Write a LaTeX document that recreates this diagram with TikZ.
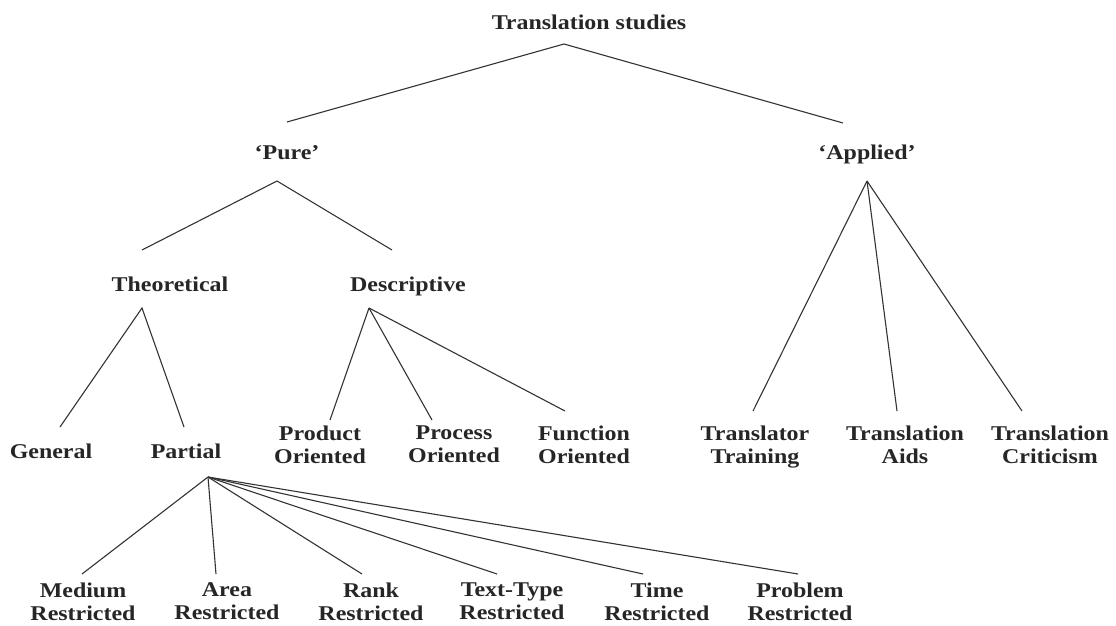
\documentclass[tikz,border=0pt]{standalone}
\usepackage{fontspec}
\setmainfont[FakeStretch=1.14]{Liberation Serif}
\begin{document}
\begin{tikzpicture}[x=1pt,y=-1pt,
  lbl/.style={font=\fontsize{21}{23}\selectfont\bfseries, text=black!85, align=center, inner sep=0pt,
    execute at begin node=\strut, execute at end node=\strut},
  branch/.style={draw=black!80, line width=1.1pt}]
\useasboundingbox[fill=white] (0,0) rectangle (1116,626);
% labels
\node[lbl] (ts) at (589,25) {Translation studies};
\node[lbl] (pure) at (287,155) {‘Pure’};
\node[lbl] (applied) at (867,155) {‘Applied’};
\node[lbl] (theo) at (170,287) {Theoretical};
\node[lbl] (desc) at (408,287) {Descriptive};
\node[lbl] (gen) at (51,454) {General};
\node[lbl] (part) at (186,454) {Partial};
\node[lbl] (prod) at (320,448) {Product\\Oriented};
\node[lbl] (proc) at (454,448) {Process\\Oriented};
\node[lbl] (func) at (584,448) {Function\\Oriented};
\node[lbl] (ttrain) at (755,448) {Translator\\Training};
\node[lbl] (taids) at (905,448) {Translation\\Aids};
\node[lbl] (tcrit) at (1050,448) {Translation\\Criticism};
\node[lbl] (med) at (83,605) {Medium\\Restricted};
\node[lbl] (area) at (227,605) {Area\\Restricted};
\node[lbl] (rank) at (371,605) {Rank\\Restricted};
\node[lbl] (ttype) at (512,605) {Text-Type\\Restricted};
\node[lbl] (time) at (657,605) {Time\\Restricted};
\node[lbl] (prob) at (800,605) {Problem\\Restricted};
% apexes and line ends
\coordinate (ts-a) at (564,44);
\coordinate (pure-t) at (287,122);
\coordinate (applied-t) at (843,123);
\coordinate (pure-a) at (277,181);
\coordinate (theo-t) at (142,250);
\coordinate (desc-t) at (392,250);
\coordinate (applied-a) at (867,181);
\coordinate (ttrain-t) at (753,411);
\coordinate (taids-t) at (897,411);
\coordinate (tcrit-t) at (1022,411);
\coordinate (theo-a) at (142,308);
\coordinate (gen-t) at (60,427);
\coordinate (part-t) at (184,427);
\coordinate (desc-a) at (369,308);
\coordinate (prod-t) at (330,420);
\coordinate (proc-t) at (432,420);
\coordinate (func-t) at (565,411);
\coordinate (part-a) at (208,477);
\coordinate (med-t) at (82,574);
\coordinate (area-t) at (216,574);
\coordinate (rank-t) at (362,574);
\coordinate (ttype-t) at (497,574);
\coordinate (time-t) at (643,574);
\coordinate (prob-t) at (798,574);
% branches
\draw[branch] (pure-t) -- (ts-a) -- (applied-t);
\draw[branch] (theo-t) -- (pure-a) -- (desc-t);
\draw[branch] (applied-a) -- (ttrain-t);
\draw[branch] (applied-a) -- (taids-t);
\draw[branch] (applied-a) -- (tcrit-t);
\draw[branch] (gen-t) -- (theo-a) -- (part-t);
\draw[branch] (desc-a) -- (prod-t);
\draw[branch] (desc-a) -- (proc-t);
\draw[branch] (desc-a) -- (func-t);
\draw[branch] (part-a) -- (med-t);
\draw[branch] (part-a) -- (area-t);
\draw[branch] (part-a) -- (rank-t);
\draw[branch] (part-a) -- (ttype-t);
\draw[branch] (part-a) -- (time-t);
\draw[branch] (part-a) -- (prob-t);
\end{tikzpicture}
\end{document}
